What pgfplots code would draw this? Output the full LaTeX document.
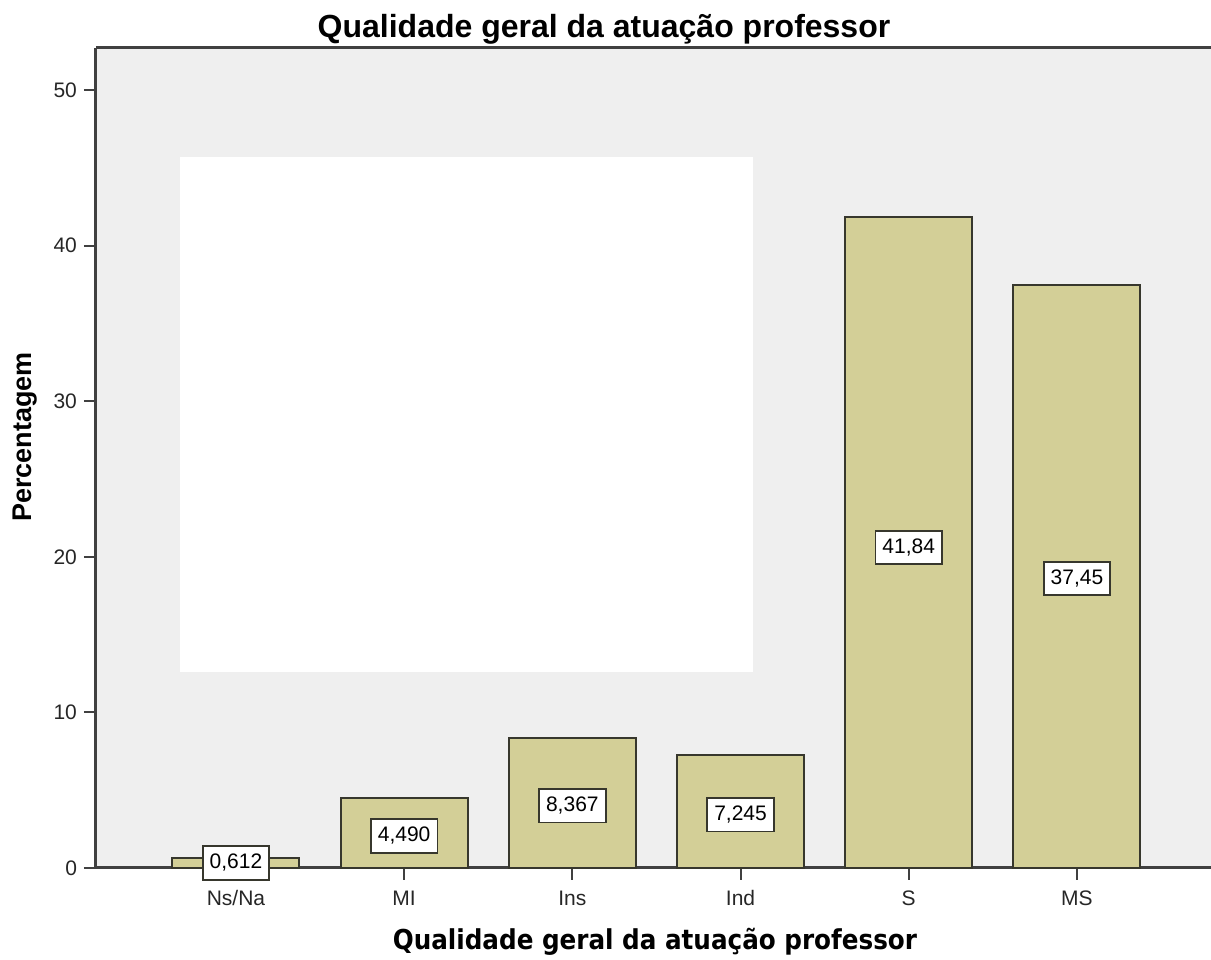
\documentclass[border=0pt]{standalone}
\usepackage{fontspec}
\setmainfont{Liberation Sans}
\newfontfamily\xlabfont{DejaVu Sans Condensed}
\usepackage{pgfplots}
\usepackage{pgfplotstable}
\pgfplotsset{compat=1.18}
\definecolor{barcol}{RGB}{211,207,151}
\definecolor{barline}{RGB}{55,55,45}
\definecolor{bgcol}{RGB}{239,239,239}
\definecolor{axcol}{RGB}{64,64,64}
\pgfplotstableread{
x y
0 0.612
1 4.490
2 8.367
3 7.245
4 41.84
5 37.45
}\bardata
\pgfplotstableread{
x y lab
0 0.32 0,612
1 2.06 4,490
2 3.99 8,367
3 3.41 7,245
4 20.6 41,84
5 18.6 37,45
}\labdata
\begin{document}
\begin{tikzpicture}
\begin{axis}[
  scale only axis,
  width=557.5pt, height=410pt,
  xmin=-0.832, xmax=5.797,
  ymin=0, ymax=52.7,
  axis x line*=bottom, axis y line*=left,
  axis line style={-, line width=1.5pt, draw=axcol},
  axis background/.style={fill=bgcol},
  xtick={0,1,2,3,4,5},
  xticklabels={Ns/Na,MI,Ins,Ind,S,MS},
  ytick={0,10,20,30,40,50},
  tick align=outside,
  major tick length=6pt,
  tick style={line width=1pt, draw=axcol},
  /pgf/number format/assume math mode=true,
  tick label style={font=\fontsize{10.5}{12}\selectfont, text=black!85},
  xticklabel style={text height=7.6pt, text depth=0pt, yshift=-1.5pt},
  clip=false,
]
\fill[white] (axis cs:-0.333,12.6) rectangle (axis cs:3.074,45.72);
\addplot[ybar, bar width=0.755, fill=barcol, draw=barline, line width=1pt] table[x=x,y=y] {\bardata};
\addplot[only marks, mark=none, point meta=explicit symbolic,
  nodes near coords, nodes near coords align={center},
  every node near coord/.style={anchor=center, fill=white, draw=barline, line width=0.9pt,
    inner xsep=3.5pt, inner ysep=4pt, font=\fontsize{10.5}{12}\selectfont, text=black}]
  table[x=x,y=y,meta=lab] {\labdata};
\draw[line width=1.5pt, draw=axcol] (rel axis cs:0,1) -- (rel axis cs:1,1);
\node[anchor=base, font=\fontsize{16}{18}\selectfont\bfseries] at ([yshift=5pt]rel axis cs:0.4556,1) {Qualidade geral da atuação professor};
\node[anchor=center, font=\xlabfont\fontsize{13.7}{16}\selectfont\bfseries] at ([yshift=-37pt]rel axis cs:0.5013,0) {Qualidade geral da atuação professor};
\node[anchor=center, rotate=90, font=\fontsize{13.5}{16}\selectfont\bfseries] at ([xshift=-35.5pt]rel axis cs:0,0.5256) {Percentagem};
\coordinate (bl) at (rel axis cs:0,0);
\coordinate (tr) at (rel axis cs:1,1);
\end{axis}
\pgfresetboundingbox
\useasboundingbox ([xshift=-48pt,yshift=-46pt]bl) rectangle ([yshift=24pt]tr);
\end{tikzpicture}
\end{document}
